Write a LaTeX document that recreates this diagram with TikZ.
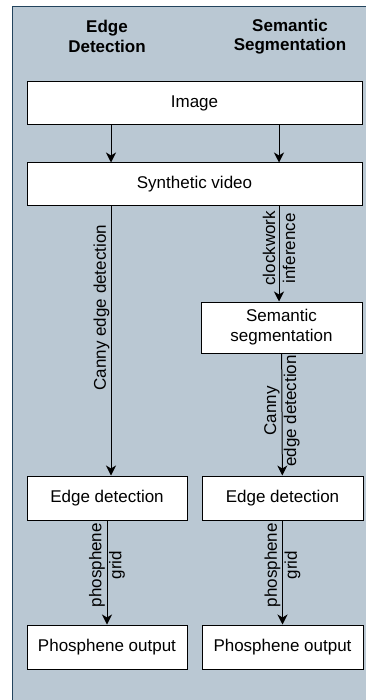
\documentclass[tikz,border=0pt]{standalone}
\usepackage{fontspec}
\setmainfont{Liberation Sans}
\usepackage{xcolor}
\usetikzlibrary{arrows.meta,positioning,calc}

\definecolor{panelfill}{HTML}{BAC8D3}
\definecolor{panelline}{HTML}{23445D}

\begin{document}
\begin{tikzpicture}[
        x=1pt, y=-1pt,
        font=\fontsize{17pt}{20pt}\selectfont,
        block/.style={rectangle, draw, fill=white, text centered, minimum width=335pt, minimum height=43pt, inner sep=0pt, line width=1pt},
        smallblock/.style={rectangle, draw, fill=white, align=center, minimum width=160pt, minimum height=44pt, inner sep=0pt, line width=1pt},
        header/.style={font=\fontsize{17pt}{19.5pt}\selectfont\bfseries, align=center},
        line/.style={draw, -{Stealth[length=10pt, width=10pt, inset=3pt]}, line width=1pt},
        edgelabel/.style={rotate=90, align=center, inner sep=1pt}
    ]
    \useasboundingbox (0,0) rectangle (366,700);

    % Panel
    \path [fill=panelfill, draw=panelline, line width=1pt] (12.5,6.5) rectangle (380,720);

    % Column headers
    \node [header] (hdrL) at (107,36.5) {Edge\\Detection};
    \node [header] (hdrR) at (290,36.5) {Semantic\\Segmentation};

    % Shared input
    \node [block] (image) at (194.5,103.5) {Image};
    \node [block, below=37pt of image] (synth) {Synthetic video};

    % Two columns
    \node [smallblock] (edgeL) at (107,498) {Edge detection};
    \node [smallblock, minimum width=161pt, right=14pt of edgeL] (edgeR) {Edge detection};
    \node [smallblock, minimum width=161pt, minimum height=51pt] (semseg) at (281.5,327.5) {Semantic\\segmentation};
    \node [smallblock, below=104pt of edgeL] (physL) {Phosphene output};
    \node [smallblock, minimum width=161pt, below=104pt of edgeR] (physR) {Phosphene output};

    \coordinate (colL) at (111,0);
    \coordinate (colR) at (279,0);

    % Connections
    \path [line] (image.south -| colL) -- (synth.north -| colL);
    \path [line] (image.south -| colR) -- (synth.north -| colR);
    \path [line] (synth.south -| colL) -- node [edgelabel, pos=0.376, anchor=south] {Canny edge detection} (edgeL.north -| colL);
    \path [line] (synth.south -| colR) -- node [edgelabel, pos=0.44] {clockwork\\inference} (semseg.north -| colR);
    \path [line] (semseg) -- node [edgelabel, pos=0.47] {Canny\\edge detection} (edgeR);
    \path [line] (edgeL) -- node [edgelabel, pos=0.43] {phosphene\\grid} (physL);
    \path [line] (edgeR) -- node [edgelabel, pos=0.43] {phosphene\\grid} (physR);

\end{tikzpicture}
\end{document}
